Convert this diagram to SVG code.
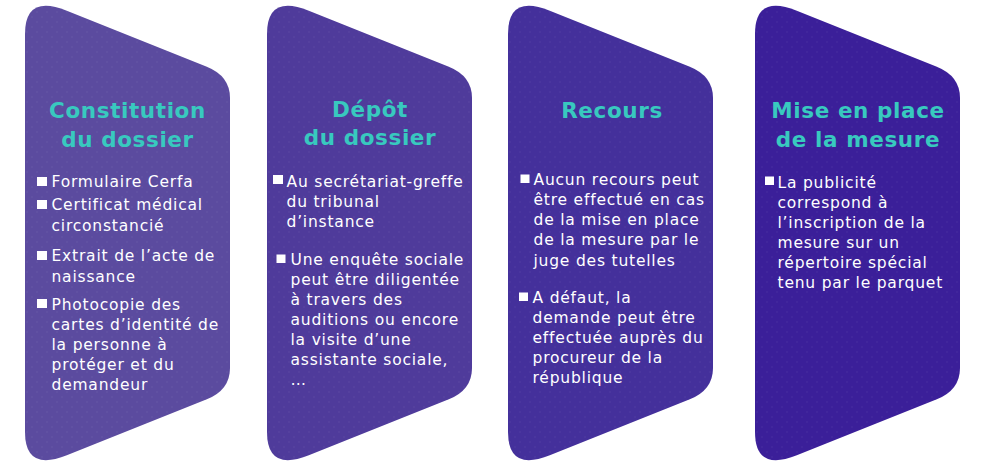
<svg xmlns="http://www.w3.org/2000/svg" xmlns:xlink="http://www.w3.org/1999/xlink" width="981" height="465" viewBox="0 0 981 465">
<style>
.title{font-family:"DejaVu Sans","Liberation Sans",sans-serif;font-weight:bold;font-size:21.5px;letter-spacing:0.6px;fill:#38c9bf;text-anchor:middle}
.body{font-family:"DejaVu Sans","Liberation Sans",sans-serif;font-size:15.5px;letter-spacing:0.8px;fill:#ffffff}
.bul{fill:#ffffff}
.dots{fill:url(#dotgrid)}
</style>
<defs>
<path id="chev" d="M 0 34 Q 0 -6 41.8 10.7 L 181.8 66.7 Q 205 76 205 98 L 205 368 Q 205 390 181.8 399.3 L 41.8 455.3 Q 0 472 0 432 Z"/>
<pattern id="dotgrid" width="10" height="10" patternUnits="userSpaceOnUse">
<circle cx="2" cy="2" r="0.7" fill="#ffffff" fill-opacity="0.08"/>
<circle cx="7" cy="7" r="0.7" fill="#ffffff" fill-opacity="0.08"/>
</pattern>
</defs>
<rect width="981" height="465" fill="#ffffff"/>

<g id="node-constitution">
<use xlink:href="#chev" href="#chev" x="25" y="0" fill="#5b4b9f"/>
<use xlink:href="#chev" href="#chev" x="25" y="0" class="dots"/>
<text class="title" x="127.5" y="118">Constitution</text>
<text class="title" x="127.5" y="147">du dossier</text>
<rect class="bul" x="37" y="177" width="10" height="9"/>
<text class="body" x="51.5" y="187">Formulaire Cerfa</text>
<rect class="bul" x="37" y="200" width="10" height="9"/>
<text class="body" x="51.5" y="210">Certificat médical</text>
<text class="body" x="51.5" y="231">circonstancié</text>
<rect class="bul" x="37" y="251" width="10" height="9"/>
<text class="body" x="51.5" y="261">Extrait de l’acte de</text>
<text class="body" x="51.5" y="282">naissance</text>
<rect class="bul" x="37" y="299" width="10" height="9"/>
<text class="body" x="51.5" y="310">Photocopie des</text>
<text class="body" x="51.5" y="330">cartes d’identité de</text>
<text class="body" x="51.5" y="350">la personne à</text>
<text class="body" x="51.5" y="370">protéger et du</text>
<text class="body" x="51.5" y="390">demandeur</text>
</g>

<g id="node-depot">
<use xlink:href="#chev" href="#chev" x="267" y="0" fill="#4f3b9b"/>
<use xlink:href="#chev" href="#chev" x="267" y="0" class="dots"/>
<text class="title" x="370" y="117">Dépôt</text>
<text class="title" x="370" y="145">du dossier</text>
<rect class="bul" x="273" y="175" width="10" height="9"/>
<text class="body" x="286.5" y="186.5">Au secrétariat-greffe</text>
<text class="body" x="286.5" y="206.5">du tribunal</text>
<text class="body" x="286.5" y="226.5">d’instance</text>
<rect class="bul" x="276.5" y="254.5" width="9" height="8.5"/>
<text class="body" x="290.5" y="265">Une enquête sociale</text>
<text class="body" x="290.5" y="285">peut être diligentée</text>
<text class="body" x="290.5" y="305">à travers des</text>
<text class="body" x="290.5" y="325">auditions ou encore</text>
<text class="body" x="290.5" y="345">la visite d’une</text>
<text class="body" x="290.5" y="365">assistante sociale,</text>
<text class="body" x="290.5" y="385">…</text>
</g>

<g id="node-recours">
<use xlink:href="#chev" href="#chev" x="508" y="0" fill="#44309b"/>
<use xlink:href="#chev" href="#chev" x="508" y="0" class="dots"/>
<text class="title" x="612" y="118">Recours</text>
<rect class="bul" x="520.5" y="174.5" width="9" height="8.5"/>
<text class="body" x="533.5" y="185">Aucun recours peut</text>
<text class="body" x="533.5" y="205">être effectué en cas</text>
<text class="body" x="533.5" y="225">de la mise en place</text>
<text class="body" x="533.5" y="245">de la mesure par le</text>
<text class="body" x="533.5" y="266">juge des tutelles</text>
<rect class="bul" x="519" y="292.5" width="9" height="8.5"/>
<text class="body" x="532.5" y="303">A défaut, la</text>
<text class="body" x="532.5" y="323">demande peut être</text>
<text class="body" x="532.5" y="343">effectuée auprès du</text>
<text class="body" x="532.5" y="363">procureur de la</text>
<text class="body" x="532.5" y="383">république</text>
</g>

<g id="node-mise-en-place">
<use xlink:href="#chev" href="#chev" x="755" y="0" fill="#3b1f99"/>
<use xlink:href="#chev" href="#chev" x="755" y="0" class="dots"/>
<text class="title" x="858" y="118">Mise en place</text>
<text class="title" x="858" y="147">de la mesure</text>
<rect class="bul" x="765" y="176.5" width="9" height="8.5"/>
<text class="body" x="777.5" y="188">La publicité</text>
<text class="body" x="777.5" y="208">correspond à</text>
<text class="body" x="777.5" y="228">l’inscription de la</text>
<text class="body" x="777.5" y="248">mesure sur un</text>
<text class="body" x="777.5" y="268">répertoire spécial</text>
<text class="body" x="777.5" y="288">tenu par le parquet</text>
</g>

<g id="connectors"></g>
</svg>
